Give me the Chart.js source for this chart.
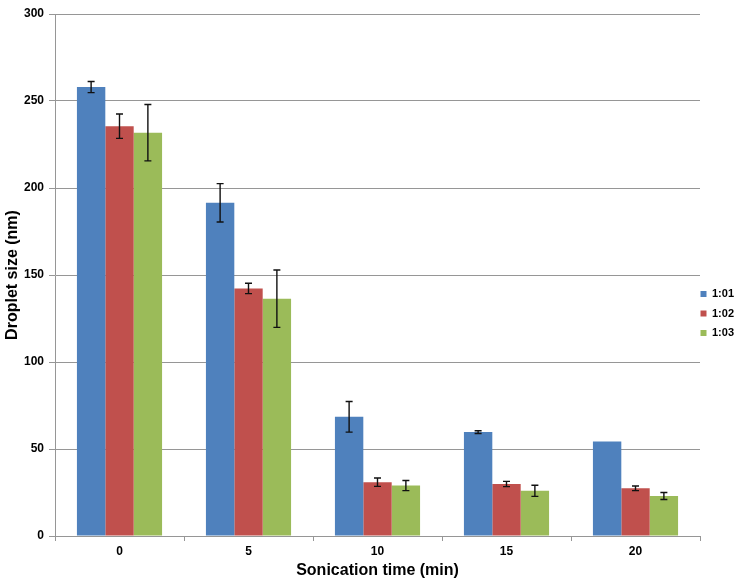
<!DOCTYPE html>
<html>
<head>
<meta charset="utf-8">
<script src="https://cdn.jsdelivr.net/npm/chart.js@4"></script>
<style>
  html, body { margin: 0; padding: 0; background: #fff; }
  #wrap { width: 735px; height: 587px; }
</style>
</head>
<body>
<div id="wrap"><canvas id="chart" width="735" height="587"></canvas></div>
<script>
const times = ["0", "5", "10", "15", "20"];
const seriesNames = ["1:01", "1:02", "1:03"];

const size101 = [258, 191.5, 68.5, 59.7, 54.3];
const size102 = [235.5, 142.3, 30.9, 29.9, 27.4];
const size103 = [231.8, 136.4, 29, 26, 23];

const err101 = [3.2, 11, 8.8, 0.8, 0];
const err102 = [7, 3, 2.4, 1.5, 1.3];
const err103 = [16.2, 16.5, 2.9, 3.2, 2];

const yTicks = [0, 50, 100, 150, 200, 250, 300];

const colors = ["#4F81BD", "#C0504D", "#9BBB59"];
const errors = [err101, err102, err103];
const FONT = "'Liberation Sans', Arial, sans-serif";

// whisker bars drawn on top of each bar, from the y scale
const errorBars = {
    id: "errorBars",
    afterDatasetsDraw(chart) {
        const ctx = chart.ctx;
        const y = chart.scales.y;
        ctx.save();
        ctx.strokeStyle = "#111";
        ctx.lineWidth = 1.4;
        chart.data.datasets.forEach((ds, i) => {
            const meta = chart.getDatasetMeta(i);
            meta.data.forEach((bar, j) => {
                const e = errors[i][j];
                if (!e) return;
                const v = ds.data[j];
                const top = y.getPixelForValue(v + e);
                const bot = y.getPixelForValue(v - e);
                const cap = 3.5;
                ctx.beginPath();
                ctx.moveTo(bar.x, top);
                ctx.lineTo(bar.x, bot);
                ctx.moveTo(bar.x - cap, top);
                ctx.lineTo(bar.x + cap, top);
                ctx.moveTo(bar.x - cap, bot);
                ctx.lineTo(bar.x + cap, bot);
                ctx.stroke();
            });
        });
        ctx.restore();
    }
};

// nudge the legend a little lower and to the left, like the original
const legendShift = {
    id: "legendShift",
    afterLayout(chart) {
        const lg = chart.legend;
        if (!lg) return;
        lg.top += 13;
        lg.bottom += 13;
        lg.left -= 8;
        lg.right = 735;
        lg.width = lg.right - lg.left;
    }
};

new Chart(document.getElementById("chart"), {
    type: "bar",
    data: {
        labels: times,
        datasets: [size101, size102, size103].map((d, i) => ({
            label: seriesNames[i],
            data: d,
            backgroundColor: colors[i],
            borderWidth: 0,
            categoryPercentage: 0.66,
            barPercentage: 1
        }))
    },
    options: {
        responsive: false,
        animation: false,
        layout: { padding: { top: 14, right: 0, bottom: 0, left: 0 } },
        plugins: {
            legend: {
                position: "right",
                maxWidth: 35,
                labels: {
                    boxWidth: 6,
                    boxHeight: 6,
                    padding: 8.5,
                    color: "#000",
                    font: { family: FONT, size: 11, weight: "bold" }
                }
            },
            tooltip: { enabled: false }
        },
        scales: {
            x: {
                afterFit(scale) { scale.height = 51; },
                grid: {
                    display: true,
                    offset: true,
                    drawOnChartArea: false,
                    drawTicks: true,
                    tickLength: 5,
                    color: "#969696"
                },
                border: { color: "#969696", width: 1 },
                ticks: {
                    padding: 3,
                    color: "#000",
                    font: { family: FONT, size: 12, weight: "bold" }
                },
                title: {
                    display: true,
                    text: "Sonication time (min)",
                    color: "#000",
                    padding: { top: 2, bottom: 7 },
                    font: { family: FONT, size: 16, weight: "bold" }
                }
            },
            y: {
                min: 0,
                max: 300,
                afterFit(scale) { scale.width = 55; },
                afterBuildTicks(scale) { scale.ticks = yTicks.map(v => ({ value: v })); },
                grid: {
                    color: "#969696",
                    lineWidth: 1,
                    tickLength: 6
                },
                border: { color: "#969696", width: 1 },
                ticks: {
                    padding: 5,
                    color: "#000",
                    font: { family: FONT, size: 12, weight: "bold" }
                },
                title: {
                    display: true,
                    text: "Droplet size (nm)",
                    color: "#000",
                    padding: { top: 3, bottom: 2 },
                    font: { family: FONT, size: 16, weight: "bold" }
                }
            }
        }
    },
    plugins: [errorBars, legendShift]
});
</script>
</body>
</html>
